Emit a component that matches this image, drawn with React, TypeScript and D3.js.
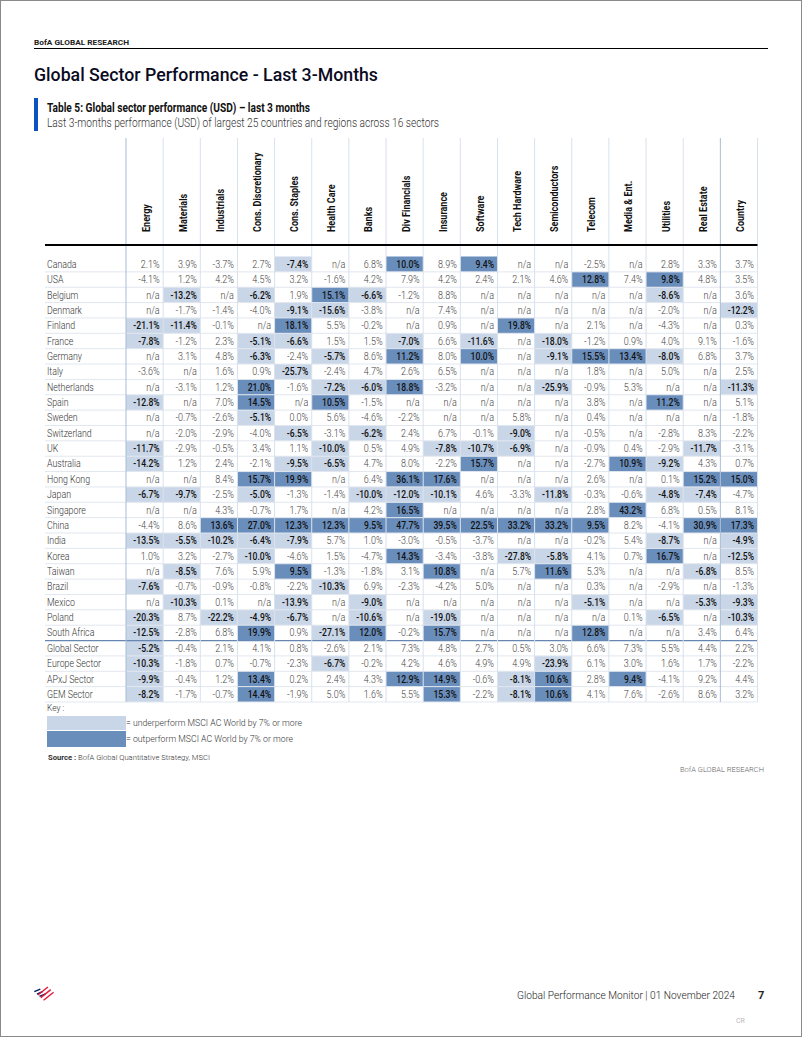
import React from "react";
import * as d3 from "d3";

const sectors = ["Energy","Materials","Industrials","Cons. Discretionary","Cons. Staples","Health Care","Banks","Div Financials","Insurance","Software","Tech Hardware","Semiconductors","Telecom","Media & Ent.","Utilities","Real Estate","Country"];

const rowNames = ["Canada","USA","Belgium","Denmark","Finland","France","Germany","Italy","Netherlands","Spain","Sweden","Switzerland","UK","Australia","Hong Kong","Japan","Singapore","China","India","Korea","Taiwan","Brazil","Mexico","Poland","South Africa","Global Sector","Europe Sector","APxJ Sector","GEM Sector"];

const N = null;
const canada = [2.1,3.9,-3.7,2.7,-7.4,N,6.8,10.0,8.9,9.4,N,N,-2.5,N,2.8,3.3,3.7];
const usa = [-4.1,1.2,4.2,4.5,3.2,-1.6,4.2,7.9,4.2,2.4,2.1,4.6,12.8,7.4,9.8,4.8,3.5];
const belgium = [N,-13.2,N,-6.2,1.9,15.1,-6.6,-1.2,8.8,N,N,N,N,N,-8.6,N,3.6];
const denmark = [N,-1.7,-1.4,-4.0,-9.1,-15.6,-3.8,N,7.4,N,N,N,N,N,-2.0,N,-12.2];
const finland = [-21.1,-11.4,-0.1,N,18.1,5.5,-0.2,N,0.9,N,19.8,N,2.1,N,-4.3,N,0.3];
const france = [-7.8,-1.2,2.3,-5.1,-6.6,1.5,1.5,-7.0,6.6,-11.6,N,-18.0,-1.2,0.9,4.0,9.1,-1.6];
const germany = [N,3.1,4.8,-6.3,-2.4,-5.7,8.6,11.2,8.0,10.0,N,-9.1,15.5,13.4,-8.0,6.8,3.7];
const italy = [-3.6,N,1.6,0.9,-25.7,-2.4,4.7,2.6,6.5,N,N,N,1.8,N,5.0,N,2.5];
const netherlands = [N,-3.1,1.2,21.0,-1.6,-7.2,-6.0,18.8,-3.2,N,N,-25.9,-0.9,5.3,N,N,-11.3];
const spain = [-12.8,N,7.0,14.5,N,10.5,-1.5,N,N,N,N,N,3.8,N,11.2,N,5.1];
const sweden = [N,-0.7,-2.6,-5.1,0.0,5.6,-4.6,-2.2,N,N,5.8,N,0.4,N,N,N,-1.8];
const switzerland = [N,-2.0,-2.9,-4.0,-6.5,-3.1,-6.2,2.4,6.7,-0.1,-9.0,N,-0.5,N,-2.8,8.3,-2.2];
const uk = [-11.7,-2.9,-0.5,3.4,1.1,-10.0,0.5,4.9,-7.8,-10.7,-6.9,N,-0.9,0.4,-2.9,-11.7,-3.1];
const australia = [-14.2,1.2,2.4,-2.1,-9.5,-6.5,4.7,8.0,-2.2,15.7,N,N,-2.7,10.9,-9.2,4.3,0.7];
const hongKong = [N,N,8.4,15.7,19.9,N,6.4,36.1,17.6,N,N,N,2.6,N,0.1,15.2,15.0];
const japan = [-6.7,-9.7,-2.5,-5.0,-1.3,-1.4,-10.0,-12.0,-10.1,4.6,-3.3,-11.8,-0.3,-0.6,-4.8,-7.4,-4.7];
const singapore = [N,N,4.3,-0.7,1.7,N,4.2,16.5,N,N,N,N,2.8,43.2,6.8,0.5,8.1];
const china = [-4.4,8.6,13.6,27.0,12.3,12.3,9.5,47.7,39.5,22.5,33.2,33.2,9.5,8.2,-4.1,30.9,17.3];
const india = [-13.5,-5.5,-10.2,-6.4,-7.9,5.7,1.0,-3.0,-0.5,-3.7,N,N,-0.2,5.4,-8.7,N,-4.9];
const korea = [1.0,3.2,-2.7,-10.0,-4.6,1.5,-4.7,14.3,-3.4,-3.8,-27.8,-5.8,4.1,0.7,16.7,N,-12.5];
const taiwan = [N,-8.5,7.6,5.9,9.5,-1.3,-1.8,3.1,10.8,N,5.7,11.6,5.3,N,N,-6.8,8.5];
const brazil = [-7.6,-0.7,-0.9,-0.8,-2.2,-10.3,6.9,-2.3,-4.2,5.0,N,N,0.3,N,-2.9,N,-1.3];
const mexico = [N,-10.3,0.1,N,-13.9,N,-9.0,N,N,N,N,N,-5.1,N,N,-5.3,-9.3];
const poland = [-20.3,8.7,-22.2,-4.9,-6.7,N,-10.6,N,-19.0,N,N,N,N,0.1,-6.5,N,-10.3];
const southAfrica = [-12.5,-2.8,6.8,19.9,0.9,-27.1,12.0,-0.2,15.7,N,N,N,12.8,N,N,3.4,6.4];
const globalSector = [-5.2,-0.4,2.1,4.1,0.8,-2.6,2.1,7.3,4.8,2.7,0.5,3.0,6.6,7.3,5.5,4.4,2.2];
const europeSector = [-10.3,-1.8,0.7,-0.7,-2.3,-6.7,-0.2,4.2,4.6,4.9,4.9,-23.9,6.1,3.0,1.6,1.7,-2.2];
const apxjSector = [-9.9,-0.4,1.2,13.4,0.2,2.4,4.3,12.9,14.9,-0.6,-8.1,10.6,2.8,9.4,-4.1,9.2,4.4];
const gemSector = [-8.2,-1.7,-0.7,14.4,-1.9,5.0,1.6,5.5,15.3,-2.2,-8.1,10.6,4.1,7.6,-2.6,8.6,3.2];

const rowValues = [canada,usa,belgium,denmark,finland,france,germany,italy,netherlands,spain,sweden,switzerland,uk,australia,hongKong,japan,singapore,china,india,korea,taiwan,brazil,mexico,poland,southAfrica,globalSector,europeSector,apxjSector,gemSector];

// MSCI AC World 3-month return and threshold for highlighting
const msciWorld = 2.25;
const threshold = 7;

const FONT = "Roboto, 'Noto Sans', sans-serif";
const LIGHT = "#c9d6e7";
const DARK = "#6a8ebc";

type TP = {
  x: number; y: number; sx?: number; rot?: number; size: number; weight?: string | number;
  fill?: string; anchor?: "start" | "end" | "middle"; len?: number; children: React.ReactNode; ls?: number;
};
function T({ x, y, sx = 1, rot = 0, size, weight = "normal", fill = "#222", anchor = "start", len, children, ls }: TP) {
  return (
    <text
      transform={`translate(${x},${y}) rotate(${rot}) scale(${sx},1)`}
      fontSize={size}
      fontWeight={weight}
      fill={fill}
      textAnchor={anchor}
      letterSpacing={ls}
      {...(len ? { textLength: len, lengthAdjust: "spacingAndGlyphs" } : {})}
    >
      {children}
    </text>
  );
}

export default function App() {
  const W = 802, H = 1037;
  const tableLeft = 45;
  const x = d3.scaleBand<string>().domain(sectors).range([126, 757.5]);
  const y = d3.scaleBand<string>().domain(rowNames).range([256.5, 702]);
  const headerTop = 138;
  const headerLine = 245;
  const cellW = x.bandwidth();
  const cellH = y.bandwidth();

  const fmt = (v: number | null) => (v === null ? "n/a" : v.toFixed(1) + "%");
  const cls = (v: number | null) => {
    if (v === null) return 0;
    const d = v - msciWorld;
    if (d >= threshold) return 2;
    if (d <= -threshold) return 1;
    return 0;
  };

  const colEdges = sectors.map((s) => x(s)!).concat([x.range()[1]]);

  return (
    <svg width={W} height={H} style={{ position: "absolute", left: 0, top: 0, background: "#fff" }} fontFamily={FONT}>
      <rect x={0.5} y={0.5} width={W - 1} height={H - 1} fill="#fff" stroke="#8a8a8a" />
      {/* header */}
      <T x={34} y={44.5} size={7.5} weight="bold" fill="#222" len={95}>BofA GLOBAL RESEARCH</T>
      <line x1={34} x2={768} y1={48.5} y2={48.5} stroke="#000" strokeWidth={1} />
      <T x={34} y={81} size={19} weight={500} fill="#0b0b1f" len={344}>Global Sector Performance - Last 3-Months</T>
      <rect x={34} y={98} width={4} height={33} fill="#0a52c2" />
      <T x={47} y={112} size={12} weight="bold" fill="#111" len={263}>Table 5: Global sector performance (USD) – last 3 months</T>
      <T x={47} y={127} size={12} weight={300} fill="#333" len={392}>Last 3-months performance (USD) of largest 25 countries and regions across 16 sectors</T>

      {/* cell highlights */}
      {rowNames.map((r, i) =>
        rowValues[i].map((v, j) => {
          const c = cls(v);
          if (!c) return null;
          return (
            <rect key={r + j} x={x(sectors[j])!} y={y(r)!} width={cellW} height={cellH} fill={c === 2 ? DARK : LIGHT} />
          );
        })
      )}

      {/* horizontal grid */}
      {rowNames.map((r) => (
        <line key={"h" + r} x1={tableLeft} x2={757.5} y1={y(r)! + cellH} y2={y(r)! + cellH} stroke="#e1e7ef" strokeWidth={1} />
      ))}
      <line x1={tableLeft} x2={757.5} y1={y("Global Sector")!} y2={y("Global Sector")!} stroke="#6687b0" strokeWidth={1.2} />
      {/* vertical grid */}
      {colEdges.map((cx, i) => (
        <line key={"v" + i} x1={cx} x2={cx} y1={headerTop} y2={702}
          stroke={i === 0 || i === 16 ? "#a9bcd5" : "#d8e1ec"} strokeWidth={1} />
      ))}
      <line x1={tableLeft} x2={757.5} y1={headerLine} y2={headerLine} stroke="#000" strokeWidth={2} />

      {/* column headers */}
      {sectors.map((s) => (
        <T key={s} x={x(s)! + cellW / 2 + 5} y={232} rot={-90} sx={0.86} size={10.5} weight="bold" fill="#111">{s}</T>
      ))}

      {/* row labels and values */}
      {rowNames.map((r, i) => (
        <g key={"r" + r}>
          <T x={47} y={y(r)! + cellH / 2 + 3.6} sx={0.88} size={10} weight={300} fill="#333">{r}</T>
          {rowValues[i].map((v, j) => {
            const c = cls(v);
            return (
              <T key={j} x={x(sectors[j])! + cellW - 3.5} y={y(r)! + cellH / 2 + 3.6} anchor="end" sx={c ? 0.86 : 0.9}
                size={10} weight={c ? 500 : 300} fill={c ? "#111" : "#444"}>{fmt(v)}</T>
            );
          })}
        </g>
      ))}

      {/* key */}
      <T x={47} y={711} size={9.5} weight={300} fill="#333" sx={0.88}>Key :</T>
      <rect x={47} y={716} width={79} height={14} fill={LIGHT} />
      <T x={126} y={726} size={9.5} weight={300} fill="#333" len={176}>= underperform MSCI AC World by 7% or more</T>
      <rect x={47} y={731} width={79} height={16} fill={DARK} />
      <T x={126} y={742} size={9.5} weight={300} fill="#333" len={167}>= outperform MSCI AC World by 7% or more</T>
      <T x={48} y={760} size={8} weight={300} fill="#333" len={162}>
        <tspan fontWeight="bold">Source : </tspan>BofA Global Quantitative Strategy, MSCI
      </T>
      <T x={680} y={772} size={8} weight={300} fill="#666" len={84}>BofA GLOBAL RESEARCH</T>

      {/* footer logo */}
      <g transform="translate(34,985)">
        {[0, 1, 2].map((k) => (
          <path key={"b" + k} d={`M${k * 2.6},${6 + k * 2.4} l6,-2.6 l0.6,1.3 l-6,2.6 z`} fill="#012169" />
        ))}
        {[0, 1, 2].map((k) => (
          <path key={"rr" + k} d={`M${3.5 + k * 2.8},${9.5 + k * 2.6} l10,-8 l0.9,1.1 l-10,8 z`} fill="#e31837" />
        ))}
      </g>
      <T x={517} y={999} size={11} weight={300} fill="#222" len={218}>Global Performance Monitor | 01 November 2024</T>
      <T x={758} y={999} size={11} weight="bold" fill="#222">7</T>
      <T x={736} y={1023} size={7} fill="#bbb">CR</T>
    </svg>
  );
}
